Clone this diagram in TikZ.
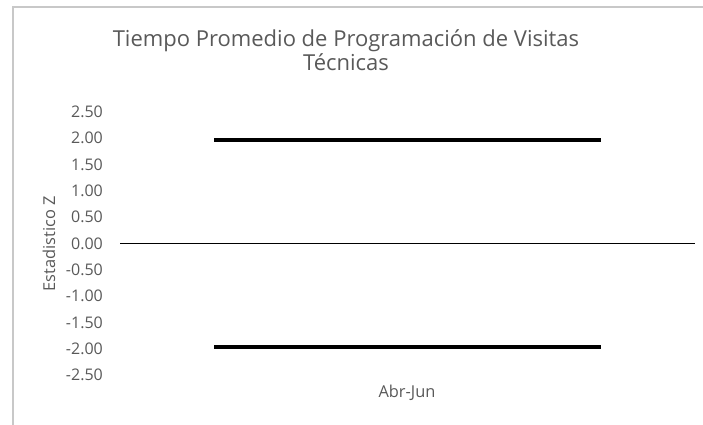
\documentclass[tikz,border=0pt]{standalone}
\usepackage{fontspec}
\setmainfont{Open Sans}
\usetikzlibrary{positioning}
\definecolor{chartgray}{HTML}{595959}
\definecolor{framegray}{HTML}{C8C8C8}

\begin{document}
\begin{tikzpicture}[x=1pt,y=-1pt]
	\tikzstyle{tick label}=[anchor=east,inner sep=0pt,text=chartgray,font=\fontsize{16}{19}\selectfont]
	\tikzstyle{axis title}=[inner sep=0pt,text=chartgray,font=\fontsize{16.4}{19}\selectfont]
	\tikzstyle{chart title}=[inner sep=0pt,text=chartgray,align=center,font=\fontsize{22}{24}\selectfont]
	\tikzstyle{limit line}=[line width=4pt,black]
	\tikzstyle{zero line}=[line width=1.3pt,black]
	
	\pgfmathsetmacro{\yzero}{243.5}
	\pgfmathsetmacro{\yunit}{52.6}
	\pgfmathsetmacro{\zcrit}{1.96}
	
	\useasboundingbox (0,0) rectangle (703,424);
	
	% Draw the chart frame
	\draw[framegray,line width=2pt] (13,430) -- (13,7) -- (710,7);
	
	% Title of the chart
	\node[chart title] (title) at (346,50) {Tiempo Promedio de Programación de Visitas\\Técnicas};
	
	% Draw the tick labels of the vertical axis
	\foreach \lab [count=\i from 0] in {2.50,2.00,1.50,1.00,0.50,0.00,-0.50,-1.00,-1.50,-2.00,-2.50}
	\node[tick label] (T-\i) at (103,{\yzero-2.5*\yunit+\i*\yunit/2}) {\lab};
	
	% Zero line and the two critical limits
	\coordinate (Z-l) at (120,\yzero);
	\coordinate (Z-r) at (695,\yzero);
	\coordinate (U-l) at (214,{\yzero-\zcrit*\yunit});
	\coordinate (U-r) at (601,{\yzero-\zcrit*\yunit});
	\coordinate (L-l) at (214,{\yzero+\zcrit*\yunit});
	\coordinate (L-r) at (601,{\yzero+\zcrit*\yunit});
	\draw[zero line] (Z-l) -- (Z-r);
	\draw[limit line] (U-l) -- (U-r);
	\draw[limit line] (L-l) -- (L-r);
	
	% Annotate the axes
	\node[axis title,rotate=90] (ytitle) at (49,244) {Estadistico Z};
	\node[axis title] (xtitle) at (407,393) {Abr-Jun};
	
\end{tikzpicture}
\end{document}
